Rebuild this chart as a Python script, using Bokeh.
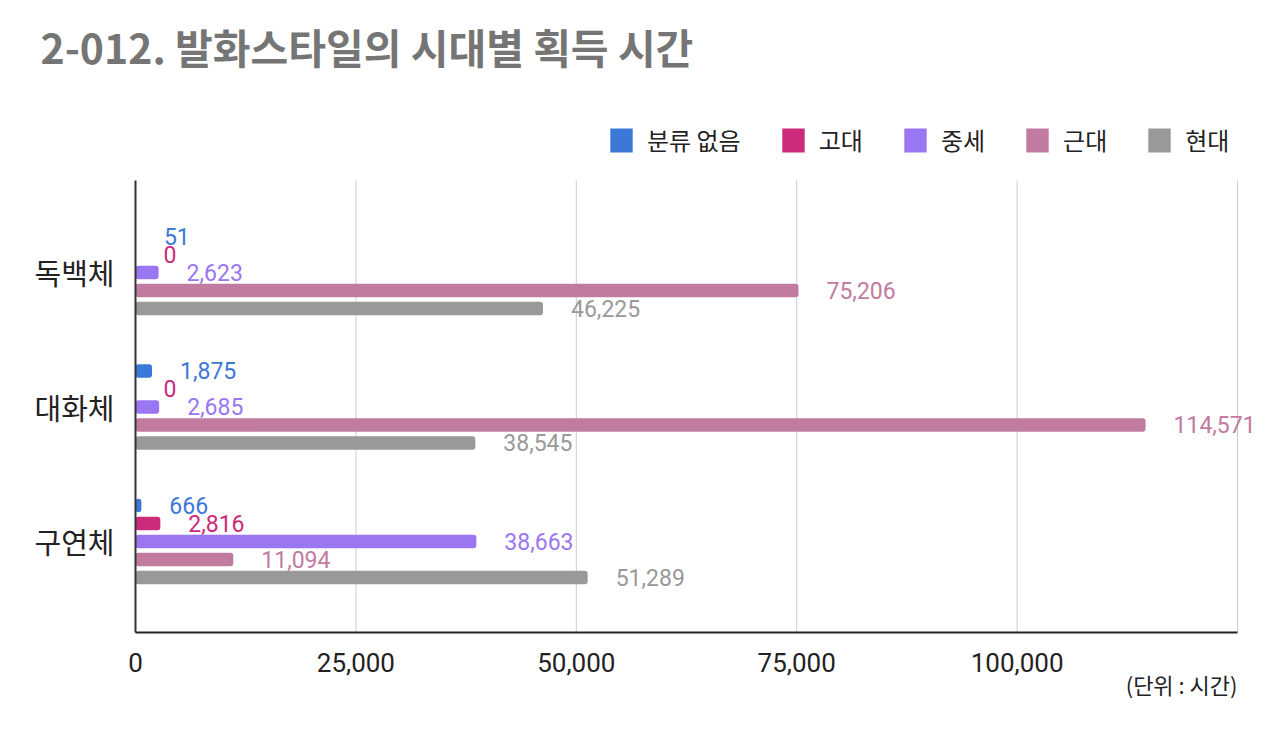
from bokeh.plotting import figure
from bokeh.models import (Range1d, FixedTicker, NumeralTickFormatter, ColumnDataSource,
                          LabelSet, Legend, LegendItem, Title)
from bokeh.core.properties import value
from bokeh.embed import file_html
from bokeh.resources import INLINE

# ---- data ----
categories = ["독백체", "대화체", "구연체"]
series_names = ["분류 없음", "고대", "중세", "근대", "현대"]
v_none = [51, 1875, 666]
v_ancient = [0, 0, 2816]
v_medieval = [2623, 2685, 38663]
v_modern = [75206, 114571, 11094]
v_contemporary = [46225, 38545, 51289]
x_ticks = [0, 25000, 50000, 75000, 100000]
grid_ticks = [25000, 50000, 75000, 100000, 125000]
title_text = "2-012. 발화스타일의 시대별 획득 시간"
unit_text = "(단위 : 시간)"

colors = ["#3c78d8", "#cc2a7b", "#9b76f2", "#c27ba0", "#999999"]
series_values = [v_none, v_ancient, v_medieval, v_modern, v_contemporary]

cat_pos = [2, 1, 0]  # 독백체 top
step = 0.1338
bar_h = 0.1
y_lo, y_hi = -0.677, 2.684      # extent of the plotting area (axis / grid)

p = figure(width=1274, height=742, x_range=Range1d(0, 127382), y_range=Range1d(y_lo, 3.4275),
           output_backend="svg", toolbar_location=None,
           min_border_left=135, min_border_right=16, min_border_top=80, min_border_bottom=110)
p.outline_line_color = None
p.background_fill_color = "white"
p.border_fill_color = "white"

# vertical grid lines limited to the plotting area
p.segment(x0=grid_ticks, y0=[y_lo] * len(grid_ticks), x1=grid_ticks, y1=[y_hi] * len(grid_ticks),
          line_color="#cccccc", line_width=1)

renderers = []
for i, (name, vals, col) in enumerate(zip(series_names, series_values, colors)):
    ys = [c + (2 - i) * step for c in cat_pos]
    src = ColumnDataSource(dict(y=ys, right=vals, text=[f"{v:,}" for v in vals]))
    r = p.hbar(y="y", left=0, right="right", height=bar_h, source=src,
               fill_color=col, line_color=None, border_radius=3)
    renderers.append(r)
    lbl = LabelSet(x="right", y="y", text="text", source=src, x_offset=28,
                   text_baseline="middle", text_align="left", text_color=col,
                   text_font=value("Roboto"), text_font_size="23px")
    p.add_layout(lbl)

# axes
p.xaxis.ticker = FixedTicker(ticks=x_ticks)
p.xaxis.formatter = NumeralTickFormatter(format="0,0")
p.xaxis.bounds = (0, 125000)
p.xaxis.major_tick_line_color = None
p.xaxis.minor_tick_line_color = None
p.xaxis.axis_line_color = "#222222"
p.xaxis.axis_line_width = 2
p.xaxis.major_label_text_font = "Roboto"
p.xaxis.major_label_text_font_size = "26px"
p.xaxis.major_label_text_color = "#222222"
p.xaxis.major_label_standoff = 14

p.yaxis.ticker = FixedTicker(ticks=cat_pos)
p.yaxis.bounds = (y_lo, y_hi)
p.yaxis.major_label_overrides = {c: n for c, n in zip(cat_pos, categories)}
p.yaxis.major_tick_line_color = None
p.yaxis.minor_tick_line_color = None
p.yaxis.axis_line_color = "#333333"
p.yaxis.axis_line_width = 2
p.yaxis.major_label_text_font = "Noto Sans CJK KR"
p.yaxis.major_label_text_font_size = "29px"
p.yaxis.major_label_text_color = "#222222"
p.yaxis.major_label_standoff = 15

p.xgrid.grid_line_color = None
p.ygrid.grid_line_color = None

# legend (inside the frame, above the plotting area)
legend = Legend(items=[LegendItem(label=n, renderers=[r]) for n, r in zip(series_names, renderers)],
                orientation="horizontal", location=(472, 475),
                glyph_width=28, glyph_height=30, label_standoff=12, spacing=38,
                padding=0, margin=0, border_line_color=None, background_fill_alpha=0,
                label_text_font="Noto Sans CJK KR", label_text_font_size="24px",
                label_text_color="#222222", label_height=24)
p.add_layout(legend, "center")

# title and unit
p.add_layout(Title(text=title_text, align="left", offset=-95,
                   text_font="Noto Sans CJK KR", text_font_style="bold", text_font_size="41px",
                   text_color="#757575"), "above")
p.add_layout(Title(text=unit_text, align="right", offset=21, standoff=-17,
                   text_font="Noto Sans CJK KR", text_font_style="normal", text_font_size="22px",
                   text_color="#222222"), "below")

open("out.html", "w").write(file_html(p, INLINE))
